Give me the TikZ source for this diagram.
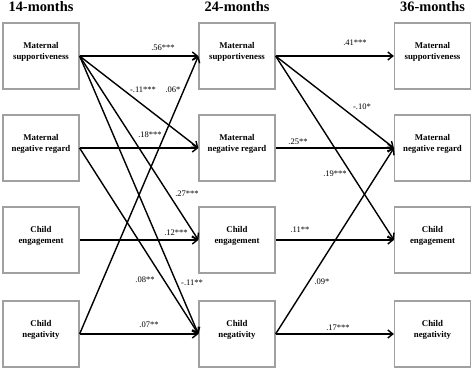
\documentclass[tikz,border=0pt]{standalone}
\usepackage{fontspec}
\setmainfont{Liberation Serif}
\usetikzlibrary{arrows.meta}
\definecolor{boxgray}{RGB}{160,160,160}
\begin{document}
\begin{tikzpicture}[x=1pt,y=-1pt,
  box/.style={draw=boxgray, line width=1.2pt, minimum width=76pt, minimum height=66pt, inner sep=0pt},
  boxtext/.style={font=\fontsize{8.8}{11.5}\selectfont\bfseries, align=center, inner sep=0pt},
  hdr/.style={font=\fontsize{14.4}{16}\selectfont\bfseries, inner sep=0pt},
  lab/.style={font=\fontsize{8.5}{10}\selectfont, inner sep=0pt},
  arr/.style={line width=1.4pt, -{Straight Barb[length=5pt,width=8pt]}}
]
\useasboundingbox (0,0) rectangle (474,370);
% headers
\node[hdr] (h1) at (41,7) {14-months};
\node[hdr] (h2) at (237,7) {24-months};
\node[hdr] (h3) at (432.5,7) {36-months};
% boxes
\foreach \c/\x in {1/41,2/237,3/432.5}{
  \node[box] (ms\c) at (\x,56) {};
  \node[box] (mn\c) at (\x,148) {};
  \node[box] (ce\c) at (\x,240) {};
  \node[box] (cn\c) at (\x,334) {};
  \node[boxtext] (ms\c t) at ([yshift=4pt]ms\c.center) {Maternal\\supportiveness};
  \node[boxtext] (mn\c t) at ([yshift=4pt]mn\c.center) {Maternal\\negative regard};
  \node[boxtext] (ce\c t) at ([yshift=4pt]ce\c.center) {Child\\engagement};
  \node[boxtext] (cn\c t) at ([yshift=4pt]cn\c.center) {Child\\negativity};
}
% 14 -> 24
\draw[arr] (ms1.east) -- (ms2.west);
\draw[arr] (ms1.east) -- (mn2.west);
\draw[arr] (ms1.east) -- (ce2.west);
\draw[arr] (ms1.east) -- (cn2.west);
\draw[arr] (mn1.east) -- (mn2.west);
\draw[arr] (mn1.east) -- (cn2.west);
\draw[arr] (ce1.east) -- (ce2.west);
\draw[arr] (cn1.east) -- (ms2.west);
\draw[arr] (cn1.east) -- (cn2.west);
% 24 -> 36
\draw[arr] (ms2.east) -- (ms3.west);
\draw[arr] (ms2.east) -- (mn3.west);
\draw[arr] (ms2.east) -- (ce3.west);
\draw[arr] (mn2.east) -- (mn3.west);
\draw[arr] (ce2.east) -- (ce3.west);
\draw[arr] (cn2.east) -- (mn3.west);
\draw[arr] (cn2.east) -- (cn3.west);
% labels
\node[lab] (l1) at (163,48) {.56***};
\node[lab] (l2) at (143,90) {-.11***};
\node[lab] (l3) at (173,90) {.06*};
\node[lab] (l4) at (150,135) {.18***};
\node[lab] (l5) at (187,194) {.27***};
\node[lab] (l6) at (176,233) {.12***};
\node[lab] (l7) at (145,280) {.08**};
\node[lab] (l8) at (192,283) {-.11**};
\node[lab] (l9) at (149,325) {.07**};
\node[lab] (l10) at (355,43) {.41***};
\node[lab] (l11) at (362,107) {-.10*};
\node[lab] (l12) at (298,142) {.25**};
\node[lab] (l13) at (335,174) {.19***};
\node[lab] (l14) at (300,230) {.11**};
\node[lab] (l15) at (322,282) {.09*};
\node[lab] (l16) at (338,328) {.17***};
\end{tikzpicture}
\end{document}
